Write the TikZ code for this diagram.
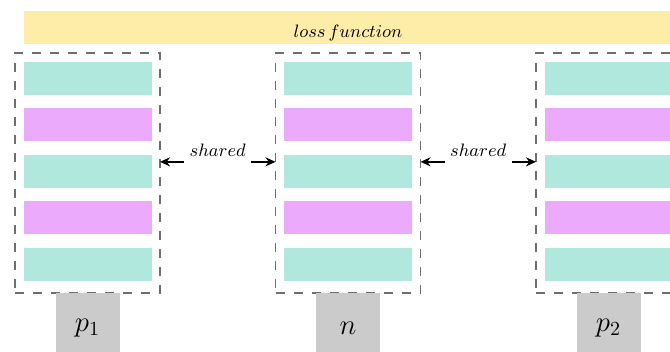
\documentclass[tikz,border=0pt]{standalone}
\usepackage{amsmath}
\usepackage{tikz}
\usetikzlibrary{positioning,fit,calc,arrows.meta}

\definecolor{tealfill}{HTML}{B0E8DE}
\definecolor{pinkfill}{HTML}{ECAAFC}
\definecolor{lossyellow}{HTML}{FEEDA9}
\definecolor{inputgray}{HTML}{CBCBCB}
\definecolor{dashgray}{HTML}{6E6E6E}

\tikzset{
    layer/.style={rectangle, minimum width=64pt, minimum height=16.5pt, inner sep=0pt, outer sep=0pt},
    emb/.style={layer, fill=tealfill},
    hid/.style={layer, fill=pinkfill},
    tower/.style={draw=dashgray, line width=0.9pt, dash pattern=on 4.5pt off 4.5pt, inner xsep=4.25pt, inner ysep=4.5pt, outer sep=0pt},
    inputbox/.style={rectangle, fill=inputgray, minimum width=32pt, minimum height=35pt, inner sep=0pt, outer sep=0pt, font=\Large},
    lossbar/.style={rectangle, fill=lossyellow, minimum width=324pt, minimum height=16.5pt, inner sep=0pt, outer sep=0pt},
    tag/.style={font=\small, inner sep=2.5pt},
    link/.style={line width=0.8pt, -{Stealth[length=5pt, width=4.5pt]}},
}

\begin{document}
\begin{tikzpicture}

    \useasboundingbox (0,0) rectangle (335pt,-176pt);
    \clip (0,0) rectangle (335pt,-176pt);

    % three towers
    \foreach \name/\x/\lab in {p1/43.75/{p_1}, n/174/{n}, p2/304.25/{p_2}} {
        \node[emb] (\name-1) at (\x pt,-39.25pt) {};
        \node[hid, below=6.75pt of \name-1] (\name-2) {};
        \node[emb, below=6.75pt of \name-2] (\name-3) {};
        \node[hid, below=6.75pt of \name-3] (\name-4) {};
        \node[emb, below=6.75pt of \name-4] (\name-5) {};
        \coordinate (\name-base) at ([yshift=-1.5pt]\name-5.south);
        \node[tower, fit=(\name-1) (\name-base)] (\name-box) {};
        \node[inputbox, below=0pt of \name-box] (\name-in) {$\lab$};
    }

    % loss on top
    \node[lossbar, above=4.5pt of n-box] (loss) {};
    \node[font=\small, anchor=base] (losstext) at ([yshift=3pt]loss.south) {$loss\,function$};

    % shared weights
    \node[tag, yshift=11.4pt] (shared1) at ($(p1-box.east)!0.5!(n-box.west)$) {$shared$};
    \node[tag, yshift=11.4pt] (shared2) at ($(n-box.east)!0.5!(p2-box.west)$) {$shared$};

    \draw[link] (shared1.south west) -- (shared1.south west -| p1-box.east);
    \draw[link] (shared1.south east) -- (shared1.south east -| n-box.west);
    \draw[link] (shared2.south west) -- (shared2.south west -| n-box.east);
    \draw[link] (shared2.south east) -- (shared2.south east -| p2-box.west);

\end{tikzpicture}
\end{document}
